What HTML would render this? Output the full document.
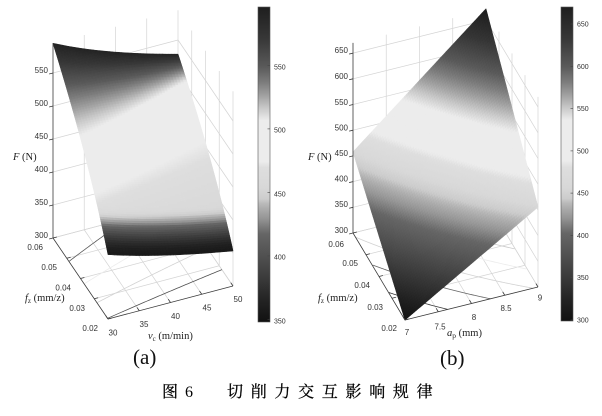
<!DOCTYPE html>
<html><head><meta charset="utf-8">
<style>
html,body{margin:0;padding:0;background:#fff;}
svg{display:block;}
.t{font-family:"Liberation Sans",Arial,sans-serif;font-size:8px;fill:#333;}
.c{font-family:"Liberation Sans",Arial,sans-serif;font-size:7px;fill:#333;}
.s{font-family:"Liberation Serif","Times New Roman",serif;fill:#222;font-size:10.5px;}
.cap{font-family:"Liberation Serif","Noto Serif CJK SC","Noto Sans CJK SC",serif;font-size:16px;fill:#000;}
.capk{stroke:#000;stroke-width:0.25;}
</style></head><body>
<svg id="s" width="602" height="416" viewBox="0 0 602 416" xmlns="http://www.w3.org/2000/svg">
<defs>
<linearGradient id="cb" x1="0" y1="0" x2="0" y2="1">
<stop offset="0" stop-color="rgb(30,30,30)"/>
<stop offset="0.1" stop-color="rgb(55,55,55)"/>
<stop offset="0.19" stop-color="rgb(90,90,90)"/>
<stop offset="0.24" stop-color="rgb(125,125,125)"/>
<stop offset="0.28" stop-color="rgb(160,160,160)"/>
<stop offset="0.32" stop-color="rgb(200,200,200)"/>
<stop offset="0.36" stop-color="rgb(236,236,236)"/>
<stop offset="0.49" stop-color="rgb(236,236,236)"/>
<stop offset="0.51" stop-color="rgb(222,222,222)"/>
<stop offset="0.575" stop-color="rgb(216,216,216)"/>
<stop offset="0.61" stop-color="rgb(204,204,204)"/>
<stop offset="0.625" stop-color="rgb(185,185,185)"/>
<stop offset="0.64" stop-color="rgb(172,172,172)"/>
<stop offset="0.67" stop-color="rgb(150,150,150)"/>
<stop offset="0.72" stop-color="rgb(102,102,102)"/>
<stop offset="0.83" stop-color="rgb(68,68,68)"/>
<stop offset="0.936" stop-color="rgb(34,34,34)"/>
<stop offset="1" stop-color="rgb(17,17,17)"/>
</linearGradient>
</defs>
<rect x="0" y="0" width="602" height="416" fill="#fff"/>
<g id="ga"></g>
<g id="gb"></g>

<!-- Panel (a) labels -->
<g class="t" text-anchor="end">
<text x="48" y="73">550</text>
<text x="48" y="106">500</text>
<text x="48" y="139">450</text>
<text x="48" y="172">400</text>
<text x="48" y="205">350</text>
<text x="48" y="238">300</text>
<text x="43" y="250">0.06</text>
<text x="57" y="270">0.05</text>
<text x="71" y="290.5">0.04</text>
<text x="85" y="311">0.03</text>
<text x="98" y="331">0.02</text>
</g>
<g class="t" text-anchor="middle">
<text x="113" y="335.4">30</text>
<text x="144" y="327">35</text>
<text x="175.5" y="319">40</text>
<text x="207" y="310.6">45</text>
<text x="238" y="302">50</text>
</g>
<text class="s" x="13" y="160"><tspan font-style="italic">F</tspan> (N)</text>
<text class="s" x="25" y="301"><tspan font-style="italic">f</tspan><tspan font-size="7" dy="2">z</tspan><tspan dy="-2"> (mm/z)</tspan></text>
<text class="s" x="148" y="339"><tspan font-style="italic">v</tspan><tspan font-size="7" dy="2">c</tspan><tspan dy="-2"> (m/min)</tspan></text>
<text x="133" y="364" font-family="Liberation Serif, serif" font-size="21" fill="#111">(a)</text>

<!-- Colorbar (a) -->
<rect x="258" y="7" width="12" height="315" fill="url(#cb)" stroke="#555" stroke-width="0.6"/>
<g stroke="#444" stroke-width="0.6">
<line x1="270" y1="65.4" x2="267.5" y2="65.4"/>
<line x1="270" y1="128.9" x2="267.5" y2="128.9"/>
<line x1="270" y1="192.4" x2="267.5" y2="192.4"/>
<line x1="270" y1="255.9" x2="267.5" y2="255.9"/>
<line x1="270" y1="319.5" x2="267.5" y2="319.5"/>
</g>
<g class="c">
<text x="274" y="69.5">550</text>
<text x="274" y="132.5">500</text>
<text x="274" y="196.5">450</text>
<text x="274" y="259.5">400</text>
<text x="274" y="323.5">350</text>
</g>

<!-- Panel (b) labels -->
<g class="t" text-anchor="end">
<text x="348" y="53">650</text>
<text x="348" y="79">600</text>
<text x="348" y="105">550</text>
<text x="348" y="130.5">500</text>
<text x="348" y="156">450</text>
<text x="348" y="181.5">400</text>
<text x="348" y="207">350</text>
<text x="348" y="233">300</text>
<text x="344" y="247">0.06</text>
<text x="358" y="266">0.05</text>
<text x="370" y="288">0.04</text>
<text x="383" y="310">0.03</text>
<text x="397" y="331">0.02</text>
</g>
<g class="t" text-anchor="middle">
<text x="407" y="335">7</text>
<text x="440" y="329.5">7.5</text>
<text x="474" y="320">8</text>
<text x="506" y="311">8.5</text>
<text x="540" y="300.5">9</text>
</g>
<text class="s" x="308" y="160"><tspan font-style="italic">F</tspan> (N)</text>
<text class="s" x="318" y="301"><tspan font-style="italic">f</tspan><tspan font-size="7" dy="2">z</tspan><tspan dy="-2"> (mm/z)</tspan></text>
<text class="s" x="447" y="336" font-size="11.5"><tspan font-style="italic">a</tspan><tspan font-size="7.5" dy="2">p</tspan><tspan dy="-2"> (mm)</tspan></text>
<text x="440" y="365" font-family="Liberation Serif, serif" font-size="21" fill="#111">(b)</text>

<!-- Colorbar (b) -->
<rect x="561" y="7" width="12" height="314" fill="url(#cb)" stroke="#555" stroke-width="0.6"/>
<g stroke="#444" stroke-width="0.6">
<line x1="573" y1="24" x2="570.5" y2="24"/>
<line x1="573" y1="66.3" x2="570.5" y2="66.3"/>
<line x1="573" y1="108.6" x2="570.5" y2="108.6"/>
<line x1="573" y1="150.9" x2="570.5" y2="150.9"/>
<line x1="573" y1="193.1" x2="570.5" y2="193.1"/>
<line x1="573" y1="235.4" x2="570.5" y2="235.4"/>
<line x1="573" y1="277.7" x2="570.5" y2="277.7"/>
<line x1="573" y1="320" x2="570.5" y2="320"/>
</g>
<g class="c">
<text x="577" y="26.5">650</text>
<text x="577" y="68.8">600</text>
<text x="577" y="111">550</text>
<text x="577" y="153.4">500</text>
<text x="577" y="195.6">450</text>
<text x="577" y="238">400</text>
<text x="577" y="280.2">350</text>
<text x="577" y="322.5">300</text>
</g>

<!-- Caption -->
<text class="cap capk" x="162" y="397" font-family="Noto Serif CJK SC, serif">图</text>
<text class="cap" x="185" y="397">6</text>
<text class="cap capk" x="227" y="397" font-family="Noto Serif CJK SC, serif" style="letter-spacing:7.7px">切削力交互影响规律</text>
</svg>
<script>
(function(){
var NS='http://www.w3.org/2000/svg';
function mk(par,tag,a){var e=document.createElementNS(NS,tag);for(var k in a)e.setAttribute(k,a[k]);par.appendChild(e);return e;}
var CM=[[0,17],[0.064,34],[0.17,68],[0.28,102],[0.33,150],[0.36,172],[0.375,185],[0.39,204],[0.425,216],[0.49,222],[0.51,236],[0.64,236],[0.68,200],[0.72,160],[0.76,125],[0.81,90],[0.9,55],[1,30]];
function cm(t){if(t<=0)return 17;if(t>=1)return 30;for(var i=1;i<CM.length;i++){if(t<=CM[i][0]){var a=CM[i-1],b=CM[i],f=(t-a[0])/(b[0]-a[0]);return Math.round(a[1]+f*(b[1]-a[1]));}}return 30;}
function g(v){return 'rgb('+v+','+v+','+v+')';}
function ln(par,a,b,col,w){mk(par,'line',{x1:a[0].toFixed(2),y1:a[1].toFixed(2),x2:b[0].toFixed(2),y2:b[1].toFixed(2),stroke:col,'stroke-width':w});}
function pl(par,pts,col,w){mk(par,'polyline',{points:pts.map(function(p){return p[0].toFixed(2)+','+p[1].toFixed(2);}).join(' '),fill:'none',stroke:col,'stroke-width':w});}

function panel(cfg){
  var G=document.getElementById(cfg.id);
  var O=cfg.O,U=cfg.U,V=cfg.V,zs=cfg.zs,z0=cfg.z0,zmax=cfg.zmax;
  function fl(p,q){return [O[0]+U[0]*p+V[0]*q, O[1]+U[1]*p+V[1]*q];}
  function P3(p,q,z){var f=fl(p,q);return [f[0], f[1]-(z-z0)*zs];}
  var gc='#d4d4d4', gw=0.7;
  cfg.zt.forEach(function(z){ ln(G,P3(1,0,z),P3(1,1,z),gc,gw); ln(G,P3(1,1,z),P3(0,1,z),gc,gw); });
  cfg.qt.forEach(function(q){ if(q>0) ln(G,P3(1,q,z0),P3(1,q,zmax),gc,gw); });
  cfg.pt.forEach(function(p){ if(p<1) ln(G,P3(p,1,z0),P3(p,1,zmax),gc,gw); });
  cfg.qt.forEach(function(q){ if(q>0) ln(G,fl(0,q),fl(1,q),gc,gw); });
  cfg.pt.forEach(function(p){ if(p>0) ln(G,fl(p,0),fl(p,1),gc,gw); });
  cfg.levels.forEach(function(L){ var pts=cfg.contour(L); if(pts.length>1) pl(G,pts.map(function(pq){return fl(pq[0],pq[1]);}), g(cm(cfg.tl(L))), 0.8); });
  var NP=cfg.np, NQ=cfg.nq;
  for(var i=NP-1;i>=0;i--){ for(var j=0;j<NQ;j++){
    var p0=i/NP,p1=(i+1)/NP,q0=j/NQ,q1=(j+1)/NQ;
    var pts=[[p0,q0],[p1,q0],[p1,q1],[p0,q1]].map(function(a){return P3(a[0],a[1],cfg.F(a[0],a[1]));});
    var c=g(cm(cfg.T((p0+p1)/2,(q0+q1)/2)));
    mk(G,'polygon',{points:pts.map(function(p){return p[0].toFixed(2)+','+p[1].toFixed(2);}).join(' '),fill:c,stroke:c,'stroke-width':0.6,'stroke-linejoin':'round'});
  }}
  var ac='#3a3a3a', aw=0.8;
  ln(G,P3(1,0,z0),P3(1,0,zmax),ac,aw);
  ln(G,fl(1,0),fl(0,0),ac,aw);
  ln(G,fl(0,0),fl(0,1),ac,aw);
  var vl=Math.sqrt(V[0]*V[0]+V[1]*V[1]), ul=Math.sqrt(U[0]*U[0]+U[1]*U[1]);
  var vn=[V[0]/vl,V[1]/vl], un=[U[0]/ul,U[1]/ul];
  cfg.zt.forEach(function(z){ var a=P3(1,0,z); ln(G,a,[a[0]-vn[0]*4,a[1]-vn[1]*4],ac,aw); });
  cfg.pt.forEach(function(p){ var a=fl(p,0); ln(G,a,[a[0]+vn[0]*4,a[1]+vn[1]*4],ac,aw); });
  cfg.qt.forEach(function(q){ var a=fl(0,q); ln(G,a,[a[0]+un[0]*4,a[1]+un[1]*4],ac,aw); });
}

// Panel (a)
function Fa(p,q){ return 397.6*Math.pow(1+2*p,0.367)*Math.pow((30+20*q)/30,-0.232); }
panel({
  id:'ga', O:[108,319], U:[-55,-81], V:[125,-33], zs:0.66, z0:300, zmax:595,
  np:110, nq:40,
  zt:[300,350,400,450,500,550], pt:[0,0.25,0.5,0.75,1], qt:[0,0.25,0.5,0.75,1],
  F:Fa,
  T:function(p,q){ var pb=0.38+0.42*q, T;
    if(p>=pb){ T=0.58+0.40*Math.pow((p-pb)/(1-pb),1.2); }
    else { var r=p/pb; T=0.58-0.19*(1-r); var x=(p+0.01)/0.21; x=Math.max(0,Math.min(1,x)); var D=x*x*(3-2*x); T=0.03+(T-0.03)*D; }
    return T; },
  levels:[400,450,500,550],
  tl:function(L){return (L-349)/248;},
  contour:function(L){ var pts=[]; for(var k=0;k<=80;k++){ var q=k/80; var gq=Math.pow((30+20*q)/30,-0.232); var r=L/(397.6*gq); var p=(Math.pow(r,1/0.367)-1)/2; if(p>=0&&p<=1) pts.push([p,q]); } return pts; }
});

// Panel (b)
function Fb(p,q){ return 300+157.6*p+155.6*q+58.8*p*q; }
panel({
  id:'gb', O:[405,320], U:[-52,-87], V:[133,-33], zs:0.514, z0:300, zmax:670,
  np:70, nq:70,
  zt:[300,350,400,450,500,550,600,650], pt:[0,0.25,0.5,0.75,1], qt:[0,0.25,0.5,0.75,1],
  F:Fb,
  T:function(p,q){ return (Fb(p,q)-299)/371; },
  levels:[350,400,450,500,550,600,650],
  tl:function(L){return (L-299)/371;},
  contour:function(L){ var pts=[]; for(var k=0;k<=200;k++){ var p=k/200; var q=(L-300-157.6*p)/(155.6+58.8*p); if(q>=0&&q<=1) pts.push([p,q]); } return pts; }
});
})();
</script>
</body></html>
